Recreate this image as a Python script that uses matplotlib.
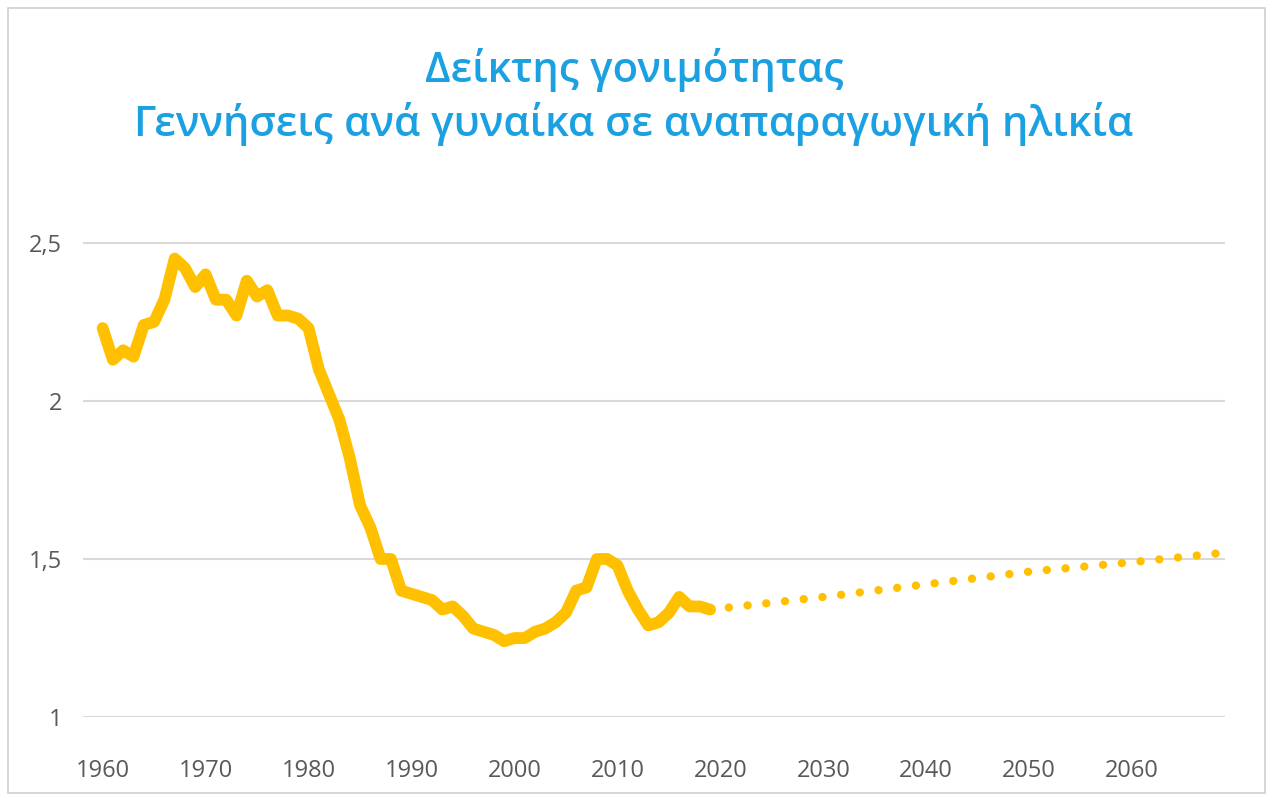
import matplotlib.pyplot as plt
from matplotlib.patches import Rectangle

# historical fertility rate (births per woman)
years = list(range(1960, 2020))
tfr = [2.23, 2.13, 2.16, 2.14, 2.24, 2.25, 2.32, 2.45, 2.42, 2.36,
       2.40, 2.32, 2.32, 2.27, 2.38, 2.33, 2.35, 2.27, 2.27, 2.26,
       2.23, 2.10, 2.02, 1.94, 1.82, 1.67, 1.60, 1.50, 1.50, 1.40,
       1.39, 1.38, 1.37, 1.34, 1.35, 1.32, 1.28, 1.27, 1.26, 1.24,
       1.25, 1.25, 1.27, 1.28, 1.30, 1.33, 1.40, 1.41, 1.50, 1.50,
       1.48, 1.40, 1.34, 1.29, 1.30, 1.33, 1.38, 1.35, 1.35, 1.34]

# projection
proj_years = [2019, 2030, 2040, 2050, 2060, 2069]
proj_tfr = [1.34, 1.38, 1.42, 1.46, 1.49, 1.52]

x_ticks = list(range(1960, 2061, 10))
y_ticks = [1, 1.5, 2, 2.5]
y_labels = ["1", "1,5", "2", "2,5"]

title = "Δείκτης γονιμότητας\nΓεννήσεις ανά γυναίκα σε αναπαραγωγική ηλικία"

LINE = "#FFC000"
BLUE = "#1BA1E2"
GREY = "#595959"


def main():
    plt.rcParams['font.family'] = ['Open Sans', 'DejaVu Sans']

    fig = plt.figure(figsize=(12.68, 7.95), dpi=100)
    fig.patches.append(Rectangle((0.006, 0.003), 0.992, 0.987, transform=fig.transFigure,
                                 fill=False, edgecolor="#D0D0D0", lw=1.2))

    ax = fig.add_axes([0.0655, 0.098, 0.9005, 0.6165])

    ax.plot(years, tfr, color=LINE, lw=8.5, solid_capstyle="round",
            solid_joinstyle="round", clip_on=False, zorder=3)
    ax.plot(proj_years, proj_tfr, color=LINE, lw=6,
            linestyle=(0, (0.01, 2.25)), dash_capstyle="round",
            clip_on=False, zorder=3)

    ax.set_xlim(1958.1, 2069)
    ax.set_ylim(1, 2.55)
    ax.set_xticks(x_ticks)
    ax.set_yticks(y_ticks)
    ax.set_yticklabels(y_labels)

    ax.grid(axis="y", color="#D9D9D9", lw=1.5)
    ax.set_axisbelow(True)
    for s in ax.spines.values():
        s.set_visible(False)
    ax.tick_params(length=0, labelsize=17, labelcolor=GREY)
    ax.tick_params(axis="x", pad=30)
    ax.tick_params(axis="y", pad=15)

    fig.text(0.5, 0.878, title, ha="center", va="center", color=BLUE,
             fontsize=30, fontweight="semibold", linespacing=1.3)

    fig.savefig("out.png", dpi=100)


if __name__ == "__main__":
    main()
